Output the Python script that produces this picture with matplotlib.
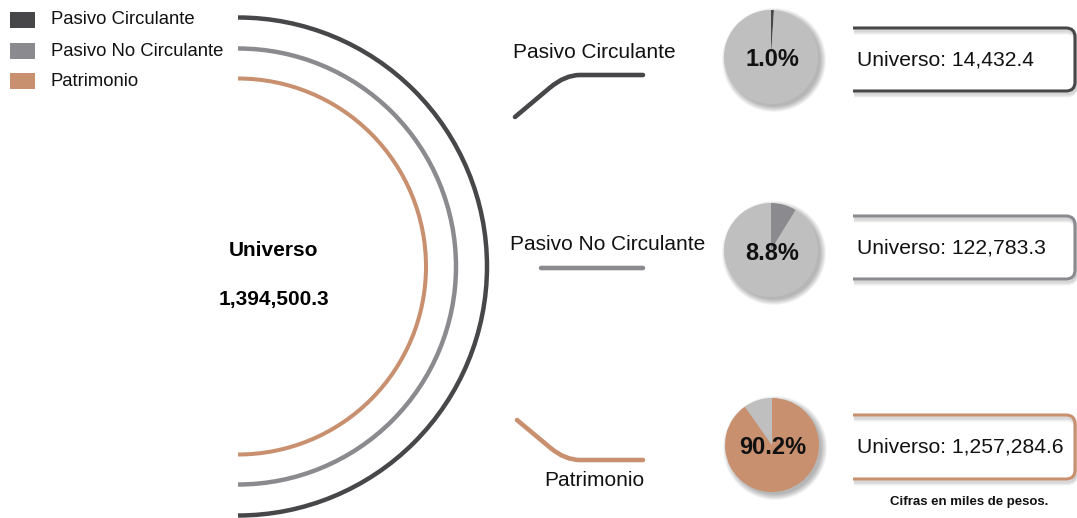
import matplotlib.pyplot as plt
from matplotlib.patches import Arc, Circle, Rectangle, PathPatch
from matplotlib.path import Path

plt.rcParams['font.family'] = ['Liberation Sans', 'DejaVu Sans']

# data (miles de pesos)
total = 1394500.3
names = ['Pasivo Circulante', 'Pasivo No Circulante', 'Patrimonio']
values = [14432.4, 122783.3, 1257284.6]
shares = [1.0, 8.8, 90.2]
colors = ['#47474a', '#8b8b8f', '#c8906f']
pie_rest = '#bfbfbf'

W, H = 1077, 518


def Y(y):
    # pixel rows are counted from the top
    return H - y


fig = plt.figure(figsize=(W / 100, H / 100), dpi=100)
ax = fig.add_axes([0, 0, 1, 1])

# legend
leg_y = [20, 51, 81]
for name, c, y in zip(names, colors, leg_y):
    ax.add_patch(Rectangle((10, Y(y) - 8), 25, 16, color=c, lw=0))
    ax.text(51, Y(y), name, fontsize=13.3, va='center', ha='left', color='#111111')

# nested half circles
cx, cy = 238, 266.5
radii = [249, 218, 188]
widths = [3.2, 3.2, 2.9]
for r, c, lw in zip(radii, colors, widths):
    ax.add_patch(Arc((cx, Y(cy)), 2 * r, 2 * r, theta1=-90, theta2=90,
                     color=c, lw=lw))

ax.text(274, Y(250), 'Universo', fontsize=15, fontweight='bold',
        ha='center', va='center')
ax.text(274, Y(300), f'{total:,.1f}', fontsize=15, fontweight='bold',
        ha='center', va='center')

# connectors with rounded elbows
conn = [
    [(515, 117), (565, 75), (580, 75), (643, 75)],
    [(541, 268), (590, 268), (600, 268), (643, 268)],
    [(517, 420), (565, 460), (580, 460), (643, 460)],
]
for pts, c in zip(conn, colors):
    (x0, y0), (x1, y1), (x2, y2), (x3, y3) = pts
    bx = x1 - 0.3 * (x1 - x0)
    by = y1 - 0.3 * (y1 - y0)
    verts = [(x0, Y(y0)), (bx, Y(by)), (x1, Y(y1)), (x2, Y(y2)), (x3, Y(y3))]
    codes = [Path.MOVETO, Path.LINETO, Path.CURVE3, Path.CURVE3, Path.LINETO]
    ax.add_patch(PathPatch(Path(verts, codes), fill=False, edgecolor=c,
                           lw=3.3, capstyle='round', joinstyle='round'))

label_pos = [(594, 52), (608, 245), (594, 481)]
for name, (x, y) in zip(names, label_pos):
    ax.text(x, Y(y), name, fontsize=15, ha='center', va='center',
            color='#111111')

# pies with a soft drop shadow
pie_c = [(771, 57), (771, 250), (772, 445)]
pie_r = 47
for (x, y), share, c in zip(pie_c, shares, colors):
    for k in range(8):
        ax.add_patch(Circle((x + 3, Y(y) - 3), pie_r + 5 - k * 0.8,
                            color='#000000', alpha=0.04, lw=0))
    ax.pie([share, 100 - share], colors=[c, pie_rest], startangle=90,
           counterclock=False, center=(x, Y(y)), radius=pie_r, frame=True,
           wedgeprops=dict(lw=0))
    ax.text(x + 1, Y(y + 3), f'{share:.1f}%', fontsize=17, fontweight='bold',
            ha='center', va='center', color='#111111')

# open boxes with values
box_tb = [(28, 91), (216, 279), (415, 479)]
x_left, x_right, rad = 853, 1075, 9
for (top, bot), v, c in zip(box_tb, values, colors):
    verts = [(x_left, Y(top)), (x_right - rad, Y(top)), (x_right, Y(top)),
             (x_right, Y(top + rad)), (x_right, Y(bot - rad)), (x_right, Y(bot)),
             (x_right - rad, Y(bot)), (x_left, Y(bot))]
    codes = [Path.MOVETO, Path.LINETO, Path.CURVE3, Path.CURVE3, Path.LINETO,
             Path.CURVE3, Path.CURVE3, Path.LINETO]
    for k in range(5):
        sh = [(px + 1, py - 1.5 - k * 0.8) for px, py in verts]
        ax.add_patch(PathPatch(Path(sh, codes), fill=False, edgecolor='black',
                               lw=3, alpha=0.035))
    ax.add_patch(PathPatch(Path(verts, codes), fill=False, edgecolor=c,
                           lw=2.2, capstyle='butt'))
    ax.text(857, Y((top + bot) / 2), f'Universo: {v:,.1f}', fontsize=15.2,
            ha='left', va='center', color='#111111')

ax.text(969, Y(502), 'Cifras en miles de pesos.', fontsize=9.5,
        fontweight='bold', ha='center', va='center', color='#111111')

ax.set_xlim(0, W)
ax.set_ylim(0, H)
ax.set_aspect('equal')
ax.axis('off')

fig.savefig('out.png', dpi=100, facecolor='white')
